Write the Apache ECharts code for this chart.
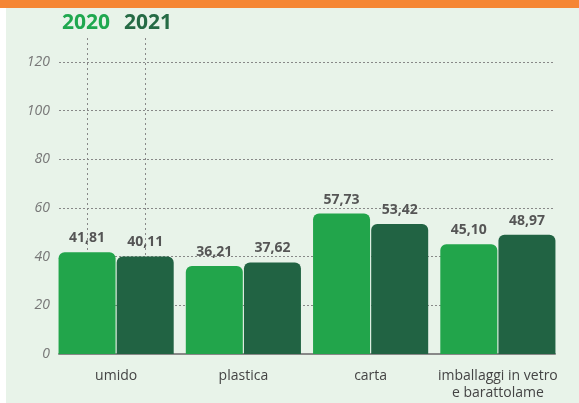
<!DOCTYPE html>
<html>
<head>
<meta charset="utf-8">
<script src="https://cdn.jsdelivr.net/npm/echarts@6/dist/echarts.min.js"></script>
<style>
  html, body { margin: 0; padding: 0; background: #fff; }
  #chart { width: 579px; height: 403px; }
</style>
</head>
<body>
<div id="chart"></div>
<script>
// dati
const categories = ['umido', 'plastica', 'carta', 'imballaggi in vetro\ne barattolame']
const years = ['2020', '2021']
const values2020 = [41.81, 36.21, 57.73, 45.10]
const values2021 = [40.11, 37.62, 53.42, 48.97]
const yTicks = [0, 20, 40, 60, 80, 100, 120]

const colors = ['#22a54b', '#216343']
const barWidth = 57

const chart = echarts.init(document.getElementById('chart'))

const fmt = (v) => v.toFixed(2).replace('.', ',')

const labelStyle = {
  show: true,
  position: 'top',
  distance: 7,
  color: '#555',
  fontFamily: 'Open Sans',
  fontWeight: 'bold',
  fontSize: 14,
  formatter: (p) => fmt(p.value)
}

const option = {
  backgroundColor: '#fff',
  graphic: [
    { type: 'rect', shape: { x: 0, y: 0, width: 579, height: 8 }, style: { fill: '#f58634' }, z: -10 },
    { type: 'rect', shape: { x: 6, y: 8, width: 573, height: 395 }, style: { fill: '#e8f3e9' }, z: -10 }
  ],
  legend: {
    left: 52,
    top: 8,
    icon: 'none',
    itemWidth: 0,
    itemGap: 9,
    selectedMode: false,
    textStyle: { fontFamily: 'Open Sans', fontWeight: 'bold', fontSize: 21 },
    data: [
      { name: years[0], textStyle: { color: '#1fa84f' } },
      { name: years[1], textStyle: { color: '#256b45' } }
    ]
  },
  grid: [
    { left: 59, right: 24, top: 62, bottom: 49 },
    { left: 52.5, right: 17.5, top: 62, bottom: 49 }
  ],
  xAxis: [
    {
      gridIndex: 0,
      type: 'category',
      data: categories,
      axisLine: { show: true, lineStyle: { color: '#888', width: 2 } },
      axisTick: { show: false },
      axisLabel: { show: false }
    },
    {
      gridIndex: 1,
      type: 'category',
      data: categories,
      axisLine: { show: false },
      axisTick: { show: false },
      axisLabel: {
        interval: 0,
        color: '#444',
        fontFamily: 'Open Sans',
        fontSize: 14,
        margin: 14,
        lineHeight: 17
      }
    }
  ],
  yAxis: [
    {
      gridIndex: 0,
      type: 'value',
      min: yTicks[0],
      max: yTicks[yTicks.length - 1],
      interval: yTicks[1] - yTicks[0],
      axisLine: { show: false },
      axisTick: { show: false },
      axisLabel: {
        color: '#777',
        fontFamily: 'Open Sans',
        fontStyle: 'italic',
        fontSize: 14,
        margin: 9
      },
      splitLine: { lineStyle: { color: '#888', type: [2, 2], width: 1 } }
    },
    {
      gridIndex: 1,
      type: 'value',
      min: yTicks[0],
      max: yTicks[yTicks.length - 1],
      interval: yTicks[1] - yTicks[0],
      show: false
    }
  ],
  series: [
    {
      name: years[0],
      type: 'bar',
      xAxisIndex: 1,
      yAxisIndex: 1,
      data: values2020,
      barWidth: barWidth,
      barGap: '2%',
      itemStyle: { color: colors[0], borderRadius: [6, 6, 0, 0] },
      label: labelStyle,
      z: 3
    },
    {
      name: years[1],
      type: 'bar',
      xAxisIndex: 1,
      yAxisIndex: 1,
      data: values2021,
      barWidth: barWidth,
      itemStyle: { color: colors[1], borderRadius: [6, 6, 0, 0] },
      label: labelStyle,
      z: 3
    }
  ]
}

chart.setOption(option)

// linee tratteggiate verticali dalla legenda alle prime barre
const drawGuides = () => {
  const center = chart.convertToPixel({ xAxisIndex: 1 }, categories[0])
  const gap = barWidth * 0.02
  const xs = [center - barWidth / 2 - gap / 2, center + barWidth / 2 + gap / 2]
  const tops = [values2020[0], values2021[0]].map(v => chart.convertToPixel({ yAxisIndex: 1 }, v))
  const guides = xs.map((x, i) => ({
    type: 'line',
    shape: { x1: Math.round(x) + 0.5, y1: 38, x2: Math.round(x) + 0.5, y2: tops[i] },
    style: { stroke: '#888', lineWidth: 1, lineDash: [2, 3] },
    z: 1
  }))
  chart.setOption({ graphic: option.graphic.concat(guides) })
}
drawGuides()
</script>
</body>
</html>
